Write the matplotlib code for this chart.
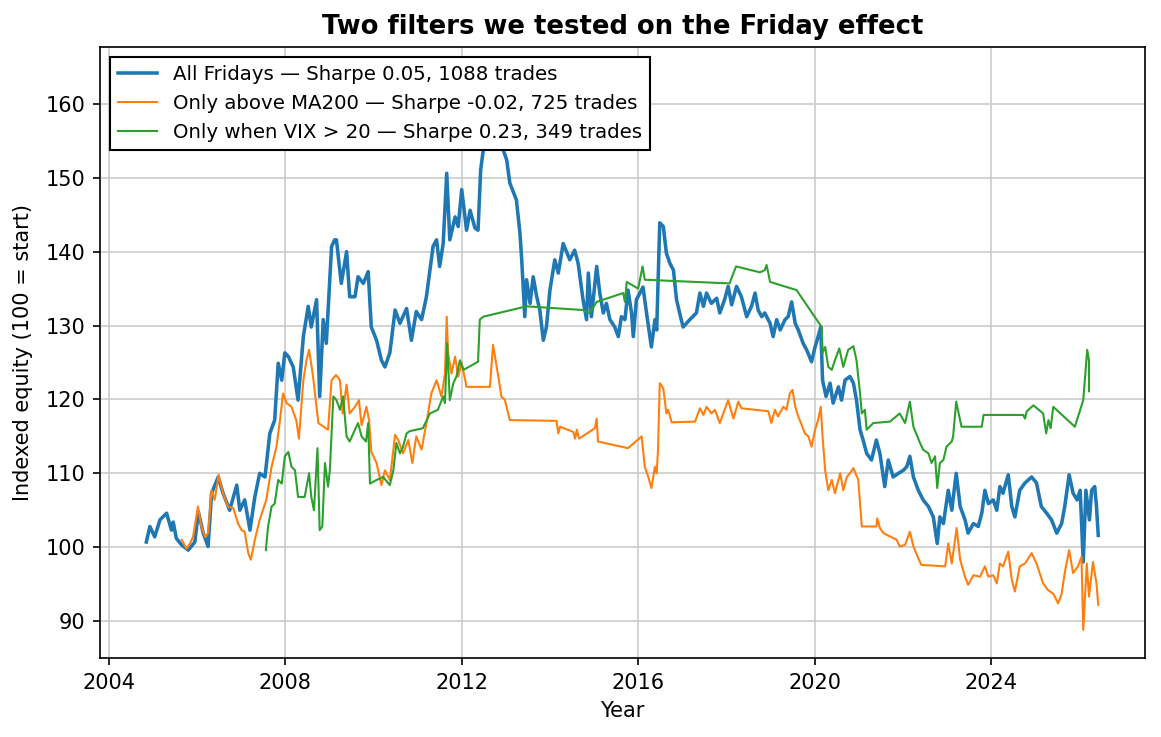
import matplotlib
matplotlib.use("Agg")
import matplotlib.pyplot as plt

# All Fridays (decimal year, indexed equity)
all_x = [2004.85, 2004.93, 2005.04, 2005.16, 2005.31, 2005.42, 2005.46, 2005.53, 2005.65, 2005.80,
         2005.95, 2006.03, 2006.14, 2006.25, 2006.33, 2006.48, 2006.59, 2006.74, 2006.90, 2006.97,
         2007.08, 2007.20, 2007.31, 2007.42, 2007.54, 2007.65, 2007.76, 2007.84, 2007.92, 2007.99,
         2008.07, 2008.18, 2008.29, 2008.41, 2008.52, 2008.59, 2008.71, 2008.78, 2008.86, 2008.93,
         2009.05, 2009.12, 2009.16, 2009.27, 2009.39, 2009.46, 2009.58, 2009.65, 2009.77, 2009.88,
         2009.95, 2010.07, 2010.18, 2010.26, 2010.37, 2010.49, 2010.60, 2010.75, 2010.86, 2010.97,
         2011.09, 2011.20, 2011.35, 2011.43, 2011.50, 2011.58, 2011.66, 2011.73, 2011.85, 2011.92,
         2012.00, 2012.11, 2012.19, 2012.30, 2012.37, 2012.43, 2012.49, 2012.58, 2012.70, 2012.82,
         2012.94, 2013.02, 2013.09, 2013.24, 2013.32, 2013.36, 2013.43, 2013.47, 2013.55, 2013.62,
         2013.70, 2013.77, 2013.85, 2013.92, 2014.00, 2014.11, 2014.19, 2014.30, 2014.45, 2014.56,
         2014.64, 2014.75, 2014.83, 2014.87, 2014.94, 2015.06, 2015.13, 2015.21, 2015.28, 2015.36,
         2015.47, 2015.55, 2015.62, 2015.70, 2015.77, 2015.85, 2015.89, 2015.96, 2016.04, 2016.11,
         2016.19, 2016.30, 2016.38, 2016.42, 2016.49, 2016.57, 2016.64, 2016.72, 2016.80, 2016.87,
         2016.96, 2017.02, 2017.17, 2017.32, 2017.40, 2017.48, 2017.55, 2017.66, 2017.78, 2017.85,
         2017.96, 2018.04, 2018.12, 2018.23, 2018.34, 2018.46, 2018.57, 2018.65, 2018.72, 2018.80,
         2018.87, 2018.99, 2019.06, 2019.14, 2019.22, 2019.33, 2019.40, 2019.48, 2019.56, 2019.63,
         2019.74, 2019.82, 2019.93, 2020.01, 2020.08, 2020.14, 2020.18, 2020.26, 2020.35, 2020.42,
         2020.54, 2020.61, 2020.69, 2020.80, 2020.88, 2020.95, 2021.03, 2021.10, 2021.18, 2021.29,
         2021.40, 2021.48, 2021.59, 2021.67, 2021.78, 2021.90, 2022.01, 2022.09, 2022.16, 2022.24,
         2022.35, 2022.46, 2022.58, 2022.69, 2022.78, 2022.84, 2022.92, 2023.03, 2023.11, 2023.21,
         2023.30, 2023.41, 2023.48, 2023.60, 2023.71, 2023.79, 2023.86, 2023.94, 2024.05, 2024.13,
         2024.20, 2024.27, 2024.39, 2024.47, 2024.54, 2024.65, 2024.77, 2024.92, 2025.03, 2025.14,
         2025.26, 2025.37, 2025.49, 2025.60, 2025.67, 2025.77, 2025.86, 2025.95, 2026.02, 2026.09,
         2026.15, 2026.23, 2026.28, 2026.35, 2026.39, 2026.43]
all_y = [100.7, 102.8, 101.4, 103.7, 104.6, 102.3, 103.4, 101.2, 100.3, 99.6,
         100.7, 104.8, 101.9, 100.1, 107.3, 109.5, 107.3, 105.0, 108.4, 105.0,
         106.4, 102.3, 106.8, 110.0, 109.5, 115.4, 117.2, 124.9, 122.6, 126.3,
         125.8, 124.4, 119.9, 128.5, 132.6, 129.8, 133.5, 120.4, 130.8, 127.6,
         140.7, 141.6, 141.6, 135.7, 140.0, 133.9, 133.9, 136.6, 135.7, 137.3,
         129.8, 128.0, 125.3, 124.4, 126.3, 132.1, 130.3, 132.3, 128.0, 131.9,
         130.8, 133.9, 140.7, 141.6, 138.0, 141.1, 150.6, 141.6, 144.7, 143.4,
         148.4, 142.9, 145.6, 143.2, 142.9, 151.1, 153.8, 159.0, 164.0, 160.0,
         153.8, 152.4, 149.3, 147.0, 142.5, 138.9, 131.2, 136.2, 133.0, 136.6,
         133.9, 132.1, 128.0, 129.8, 134.8, 138.9, 137.1, 141.1, 138.9, 140.2,
         138.4, 133.5, 130.8, 137.1, 131.2, 138.0, 134.4, 131.7, 133.0, 130.8,
         129.8, 128.5, 131.2, 130.8, 134.8, 131.7, 128.5, 133.5, 134.4, 135.2,
         131.7, 127.1, 130.8, 129.4, 143.9, 143.4, 139.8, 138.4, 137.5, 133.5,
         131.2, 129.8, 130.8, 131.7, 134.4, 132.6, 134.4, 133.0, 133.7, 131.7,
         133.5, 135.3, 132.8, 135.3, 133.9, 131.2, 132.6, 134.4, 132.1, 131.2,
         131.7, 130.3, 128.5, 130.8, 129.4, 130.8, 131.2, 133.2, 130.3, 129.4,
         127.6, 126.7, 125.1, 127.1, 128.5, 129.8, 122.6, 120.4, 122.2, 119.5,
         121.7, 119.9, 122.6, 123.1, 122.2, 119.9, 115.9, 114.5, 112.7, 111.8,
         114.5, 112.7, 108.2, 111.8, 109.5, 110.0, 110.4, 110.9, 112.3, 109.5,
         107.7, 106.4, 105.5, 104.1, 100.5, 104.1, 103.2, 107.7, 105.0, 110.0,
         105.5, 103.7, 101.9, 103.2, 102.8, 104.6, 107.7, 105.9, 106.4, 105.0,
         108.2, 107.3, 109.8, 105.5, 104.1, 107.7, 108.7, 109.5, 108.7, 105.5,
         104.6, 103.7, 101.9, 103.2, 105.5, 109.8, 107.3, 106.4, 107.7, 98.0,
         107.7, 103.7, 107.7, 108.2, 105.5, 101.6]

# Only above MA200
ma_x = [2005.65, 2005.76, 2005.84, 2005.91, 2006.02, 2006.10, 2006.18, 2006.25, 2006.33, 2006.40,
        2006.49, 2006.59, 2006.70, 2006.82, 2006.93, 2007.01, 2007.08, 2007.16, 2007.22, 2007.31,
        2007.42, 2007.57, 2007.69, 2007.80, 2007.88, 2007.95, 2008.03, 2008.14, 2008.25, 2008.31,
        2008.41, 2008.48, 2008.54, 2008.63, 2008.75, 2008.97, 2009.05, 2009.15, 2009.24, 2009.30,
        2009.39, 2009.46, 2009.58, 2009.67, 2009.73, 2009.84, 2009.90, 2009.95, 2010.07, 2010.18,
        2010.26, 2010.37, 2010.49, 2010.56, 2010.67, 2010.79, 2010.88, 2010.97, 2011.09, 2011.20,
        2011.31, 2011.43, 2011.54, 2011.62, 2011.66, 2011.69, 2011.77, 2011.85, 2011.92, 2012.00,
        2012.11, 2012.64, 2012.71, 2012.83, 2012.90, 2012.98, 2013.09, 2014.15, 2014.19, 2014.23,
        2014.53, 2014.57, 2014.61, 2014.66, 2015.02, 2015.06, 2015.09, 2015.77, 2016.08, 2016.15,
        2016.23, 2016.30, 2016.38, 2016.42, 2016.45, 2016.49, 2016.57, 2016.64, 2016.68, 2016.76,
        2017.29, 2017.40, 2017.48, 2017.55, 2017.66, 2017.74, 2017.85, 2017.93, 2018.04, 2018.16,
        2018.27, 2018.34, 2018.95, 2019.02, 2019.10, 2019.17, 2019.29, 2019.36, 2019.44, 2019.50,
        2019.56, 2019.63, 2019.71, 2019.78, 2019.86, 2019.93, 2020.01, 2020.08, 2020.14, 2020.18,
        2020.24, 2020.31, 2020.39, 2020.46, 2020.58, 2020.65, 2020.73, 2020.80, 2020.88, 2020.99,
        2021.07, 2021.40, 2021.42, 2021.48, 2021.56, 2021.86, 2021.93, 2022.05, 2022.16, 2022.24,
        2022.35, 2022.42, 2022.96, 2023.03, 2023.11, 2023.22, 2023.30, 2023.41, 2023.48, 2023.60,
        2023.75, 2023.86, 2023.94, 2024.05, 2024.13, 2024.20, 2024.27, 2024.39, 2024.47, 2024.54,
        2024.65, 2024.77, 2024.92, 2025.03, 2025.18, 2025.29, 2025.41, 2025.52, 2025.60, 2025.67,
        2025.77, 2025.86, 2025.97, 2026.05, 2026.09, 2026.17, 2026.22, 2026.31, 2026.39, 2026.43]
ma_y = [101.0, 99.8, 100.5, 101.4, 105.5, 102.8, 101.4, 101.9, 107.7, 106.4,
        109.8, 107.3, 105.5, 105.3, 103.2, 102.3, 102.1, 99.2, 98.3, 101.0,
        103.7, 106.4, 110.9, 113.6, 117.2, 120.8, 119.5, 119.0, 117.2, 114.7,
        122.6, 125.3, 126.7, 123.1, 116.8, 115.9, 122.6, 123.3, 122.6, 118.1,
        122.0, 118.1, 119.0, 119.9, 116.5, 119.0, 117.2, 112.9, 111.4, 108.4,
        110.4, 109.1, 115.2, 114.5, 112.7, 114.5, 111.4, 115.0, 113.2, 116.8,
        120.8, 122.6, 120.4, 123.5, 131.2, 126.3, 123.5, 125.8, 123.1, 124.9,
        121.7, 121.7, 127.4, 123.1, 120.4, 119.9, 117.2, 117.1, 115.4, 116.3,
        115.6, 114.7, 115.9, 114.7, 116.1, 117.4, 114.3, 113.4, 115.0, 110.9,
        109.5, 108.0, 110.9, 110.0, 113.2, 122.2, 121.5, 118.1, 118.6, 116.9,
        117.0, 118.8, 117.9, 119.0, 118.1, 118.6, 116.8, 118.1, 119.9, 117.4,
        119.7, 118.8, 118.4, 116.8, 118.6, 117.7, 119.0, 118.6, 120.8, 121.3,
        119.0, 117.7, 116.5, 115.4, 115.0, 113.6, 115.9, 117.2, 119.0, 115.0,
        110.4, 107.7, 109.1, 107.3, 110.0, 107.7, 109.5, 110.0, 110.7, 109.1,
        102.8, 102.8, 103.9, 102.6, 101.9, 101.0, 100.1, 100.3, 102.1, 100.1,
        98.5, 97.6, 97.4, 100.5, 97.8, 102.6, 98.3, 96.0, 94.9, 96.2,
        96.0, 97.4, 96.0, 96.2, 95.1, 97.8, 97.4, 99.4, 95.6, 94.0,
        97.4, 97.8, 99.2, 97.8, 95.1, 94.2, 93.7, 92.4, 93.7, 96.5,
        99.6, 96.5, 97.4, 98.7, 88.8, 97.8, 93.3, 98.0, 95.1, 92.2]

# Only when VIX > 20
vix_x = [2007.56, 2007.61, 2007.69, 2007.76, 2007.84, 2007.92, 2007.99, 2008.07, 2008.14, 2008.22,
         2008.29, 2008.44, 2008.54, 2008.59, 2008.65, 2008.73, 2008.78, 2008.84, 2008.90, 2008.97,
         2009.01, 2009.09, 2009.16, 2009.24, 2009.31, 2009.39, 2009.46, 2009.58, 2009.65, 2009.73,
         2009.83, 2009.88, 2009.92, 2010.07, 2010.22, 2010.37, 2010.45, 2010.52, 2010.60, 2010.67,
         2010.75, 2010.82, 2011.12, 2011.28, 2011.46, 2011.58, 2011.62, 2011.67, 2011.73, 2011.81,
         2011.88, 2011.96, 2012.04, 2012.37, 2012.41, 2012.49, 2013.47, 2014.75, 2014.90, 2015.06,
         2015.66, 2015.70, 2015.74, 2016.00, 2016.04, 2016.10, 2016.15, 2018.07, 2018.22, 2018.76,
         2018.87, 2018.91, 2018.95, 2018.99, 2019.59, 2020.16, 2020.18, 2020.24, 2020.31, 2020.39,
         2020.46, 2020.56, 2020.65, 2020.76, 2020.88, 2020.95, 2021.03, 2021.07, 2021.14, 2021.18,
         2021.33, 2021.71, 2021.93, 2022.05, 2022.16, 2022.24, 2022.39, 2022.46, 2022.58, 2022.65,
         2022.73, 2022.78, 2022.84, 2022.92, 2022.99, 2023.11, 2023.14, 2023.21, 2023.33, 2023.79,
         2023.83, 2024.73, 2024.77, 2024.81, 2024.96, 2025.18, 2025.25, 2025.30, 2025.35, 2025.41,
         2025.90, 2026.09, 2026.18, 2026.22, 2026.22]
vix_y = [99.6, 102.8, 105.5, 105.9, 109.1, 108.6, 112.3, 112.9, 110.9, 110.4,
         106.8, 106.8, 110.0, 106.8, 105.0, 113.4, 102.3, 102.8, 111.4, 108.2,
         110.4, 120.4, 119.9, 118.6, 120.4, 115.0, 114.3, 115.9, 116.8, 115.0,
         114.3, 116.8, 108.6, 109.1, 109.5, 108.4, 110.4, 114.1, 112.7, 113.6,
         115.4, 115.7, 116.1, 118.1, 118.6, 120.4, 119.5, 127.6, 119.9, 122.2,
         123.1, 125.3, 124.0, 125.1, 130.8, 131.2, 132.6, 132.1, 131.7, 133.2,
         134.4, 133.2, 135.9, 135.0, 136.2, 138.0, 136.2, 135.7, 138.0, 137.2,
         137.5, 138.2, 137.1, 135.9, 134.8, 129.8, 126.3, 127.1, 124.4, 124.0,
         125.3, 126.9, 124.4, 126.7, 127.2, 125.3, 120.8, 118.1, 118.6, 115.9,
         116.8, 117.0, 118.1, 116.8, 119.7, 116.3, 114.1, 113.2, 112.7, 111.4,
         112.3, 108.0, 111.4, 111.8, 113.6, 114.3, 115.0, 119.7, 116.3, 116.3,
         117.9, 117.9, 117.4, 118.4, 119.2, 118.1, 115.4, 117.2, 116.1, 119.0,
         116.3, 119.9, 126.7, 125.3, 121.1]

labels = ["All Fridays — Sharpe 0.05, 1088 trades",
          "Only above MA200 — Sharpe -0.02, 725 trades",
          "Only when VIX > 20 — Sharpe 0.23, 349 trades"]
year_ticks = [2004, 2008, 2012, 2016, 2020, 2024]

fig = plt.figure(figsize=(1161 / 150, 737 / 150), dpi=150)
ax = fig.add_axes([100 / 1161, 1 - 658 / 737, 1045 / 1161, 611 / 737])

ax.plot(all_x, all_y, color="#1f77b4", lw=1.7, label=labels[0])
ax.plot(ma_x, ma_y, color="#ff7f0e", lw=1.0, label=labels[1])
ax.plot(vix_x, vix_y, color="#2ca02c", lw=1.0, label=labels[2])

ax.set_xlim(2003.80, 2027.49)
ax.set_ylim(85.0, 167.7)
ax.set_xticks(year_ticks)
ax.set_xticklabels([str(y) for y in year_ticks])
ax.grid(True, color="#cccccc", linewidth=0.8)
ax.set_axisbelow(True)
ax.set_xlabel("Year", fontsize=10)
ax.set_ylabel("Indexed equity (100 = start)", fontsize=10, labelpad=6)
ax.set_title("Two filters we tested on the Friday effect", fontsize=12.4, fontweight="bold")
leg = ax.legend(loc="upper left", fontsize=9.5, fancybox=False, framealpha=1, edgecolor="black")
leg.get_frame().set_linewidth(1.0)

fig.savefig("out.png", dpi=150)
